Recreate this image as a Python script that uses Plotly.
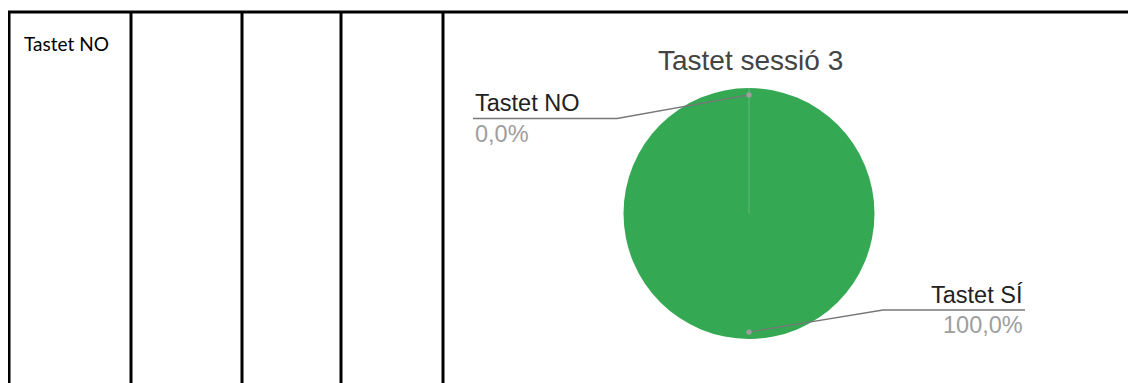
import math
import plotly.graph_objects as go

W, H = 1136, 383          # window size
OX, OY = 8, 8             # page body margin
FW, FH = W - OX, H - OY   # figure size

# ---- data ----
title = "Tastet sessió 3"
labels = ["Tastet NO", "Tastet SÍ"]
values = [0, 100]
pct_text = ["0,0%", "100,0%"]
colors = ["#4285F4", "#34A853"]
cell_text = "Tastet NO"

# ---- layout helpers (window pixel -> paper) ----
def px(x):
    return (x - OX) / FW

def py(y):
    return 1 - (y - OY) / FH

# pie placement in window pixels
cx, cy, r = 749, 213.5, 125.5

fig = go.Figure()
fig.add_trace(go.Pie(
    labels=labels, values=values, sort=False, direction="clockwise", rotation=0,
    marker=dict(colors=colors, line=dict(width=0)),
    textinfo="none", hoverinfo="label+percent", showlegend=False,
    domain=dict(x=[px(cx - r), px(cx + r)], y=[py(cy + r), py(cy - r)]),
))

shapes = []
annotations = []

# table grid
line_kw = dict(color="black", width=3)
shapes.append(dict(type="line", xref="paper", yref="paper",
                   x0=px(8), x1=px(W + 2), y0=py(12), y1=py(12), line=line_kw))
for vx in [9, 131, 242, 341, 443]:
    shapes.append(dict(type="line", xref="paper", yref="paper",
                       x0=px(vx), x1=px(vx), y0=py(11), y1=py(H + 2), line=line_kw))

annotations.append(dict(text=cell_text, xref="paper", yref="paper", x=px(22), y=py(44),
                        xanchor="left", yanchor="middle", showarrow=False,
                        font=dict(family="Lato", size=19, color="#000000")))

# title
annotations.append(dict(text=title, xref="paper", yref="paper", x=px(750.5), y=py(61),
                        xanchor="center", yanchor="middle", showarrow=False,
                        font=dict(family="Liberation Sans", size=28, color="#444444")))

# slice boundary line (from data angles)
total = sum(values)
cum = 0
for v in values:
    ang = 2 * math.pi * cum / total
    shapes.append(dict(type="line", xref="paper", yref="paper",
                       x0=px(cx), y0=py(cy),
                       x1=px(cx + r * math.sin(ang)), y1=py(cy - r * math.cos(ang)),
                       line=dict(color="rgba(255,255,255,0.12)", width=1)))
    cum += v

# leader lines and labels
label_layout = [
    # (elbow x, line y, far end x, side)
    (617, 118.5, 473, "left"),
    (883, 310, 1025, "right"),
]
cum = 0
for i, v in enumerate(values):
    mid = 2 * math.pi * (cum + v / 2) / total
    cum += v
    dx = cx + 0.945 * r * math.sin(mid)
    dy = cy - 0.945 * r * math.cos(mid)
    ex, ly, fx, side = label_layout[i]
    shapes.append(dict(type="path", xref="paper", yref="paper",
                       path=f"M {px(dx)} {py(dy)} L {px(ex)} {py(ly)} L {px(fx)} {py(ly)}",
                       line=dict(color="#777777", width=1.3)))
    shapes.append(dict(type="circle", xref="paper", yref="paper",
                       x0=px(dx - 2.7), x1=px(dx + 2.7), y0=py(dy + 2.7), y1=py(dy - 2.7),
                       fillcolor="#9e9e9e", line=dict(width=0)))
    anchor = "left" if side == "left" else "right"
    annotations.append(dict(text=labels[i], xref="paper", yref="paper", x=px(fx), y=py(ly - 15),
                            xanchor=anchor, yanchor="middle", showarrow=False,
                            font=dict(family="Liberation Sans", size=23.5, color="#222222")))
    annotations.append(dict(text=pct_text[i], xref="paper", yref="paper", x=px(fx), y=py(ly + 15),
                            xanchor=anchor, yanchor="middle", showarrow=False,
                            font=dict(family="Liberation Sans", size=23.5, color="#9e9e9e")))

fig.update_layout(
    width=FW, height=FH, margin=dict(l=0, r=0, t=0, b=0),
    paper_bgcolor="white", plot_bgcolor="white",
    shapes=shapes, annotations=annotations,
)
fig.write_html("out.html")
